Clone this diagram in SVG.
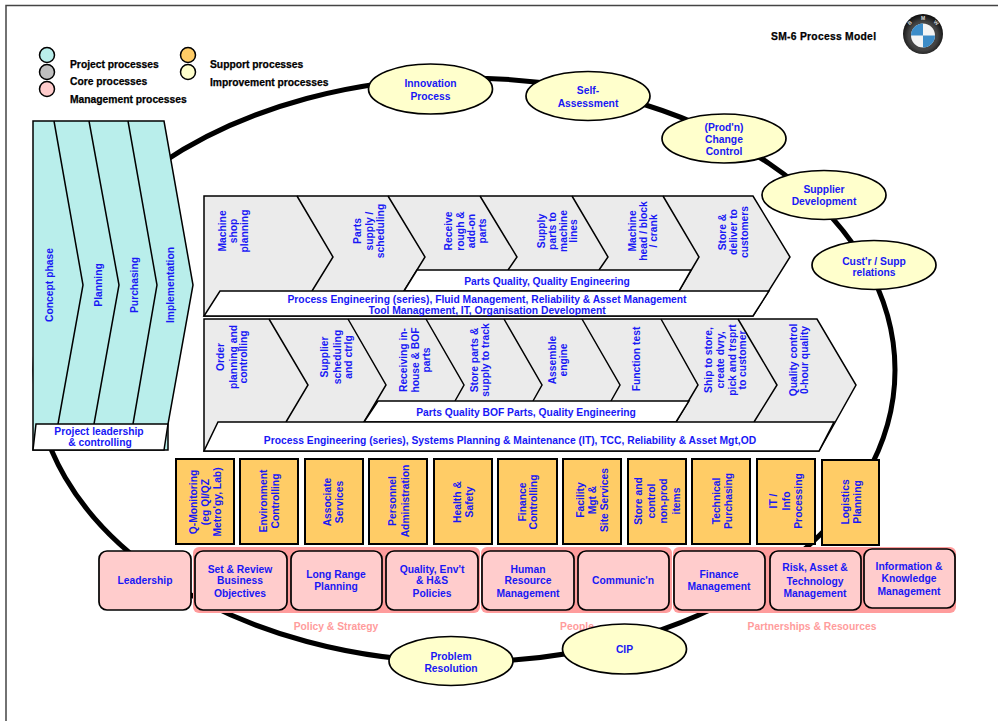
<svg xmlns="http://www.w3.org/2000/svg" width="998" height="721" viewBox="0 0 998 721">
<style>
text{font-family:"Liberation Sans",Arial,sans-serif;font-size:10.3px;font-weight:700}
.b{fill:#1818f5;text-anchor:middle}
.k{fill:#000;stroke:#000;stroke-width:.25}
.p{fill:#ff9c9c;text-anchor:middle}
.s{stroke:#000;stroke-width:1.5;fill:none}
.g{fill:#ebebeb;stroke:#000;stroke-width:1.5}
.w{fill:#fff;stroke:#000;stroke-width:1.5}
.t{fill:#b9eeeb;stroke:#000;stroke-width:1.5}
.o{fill:#ffcc66;stroke:#000;stroke-width:2}
.m{fill:#ffcccc;stroke:#000;stroke-width:1.7}
.r{fill:#ff9c9c}
.y{fill:#ffffcc;stroke:#000;stroke-width:1.7}
.bm{fill:#ddd;font-size:5px;text-anchor:middle}
</style>
<defs>
<radialGradient id="lg" cx="50%" cy="55%" r="55%"><stop offset="65%" stop-color="#444"/><stop offset="100%" stop-color="#0a0a0a"/></radialGradient>
</defs>
<rect width="998" height="721" fill="#fff"/>
<path id="frame" d="M6 721V5.500H998" fill="none" stroke="#444" stroke-width="1.5"/>

<g id="legend">
<circle class="t" cx="47" cy="55" r="7.500"/><circle cx="47" cy="72" r="7.500" fill="#c0c0c0" stroke="#000" stroke-width="1.500"/><circle cx="47" cy="89" r="7.500" fill="#ffcccc" stroke="#000" stroke-width="1.500"/>
<circle cx="188" cy="55" r="7.500" fill="#ffcc66" stroke="#000" stroke-width="1.500"/><circle cx="188" cy="72" r="7.500" fill="#ffffcc" stroke="#000" stroke-width="1.500"/>
<text class="k" x="70" y="68">Project processes</text><text class="k" x="70" y="85">Core processes</text><text class="k" x="70" y="103">Management processes</text>
<text class="k" x="210" y="68">Support processes</text><text class="k" x="210" y="86">Improvement processes</text>
</g>
<g id="title"><text class="k" x="771" y="40" textLength="105">SM-6 Process Model</text></g>
<g id="logo">
<circle cx="923" cy="34" r="20" fill="url(#lg)"/>
<circle cx="923" cy="35.500" r="12" fill="#f4f4f4"/>
<path d="M923 35.500V23.500A12 12 0 0 0 911 35.500Z M923 35.500V47.500A12 12 0 0 0 935 35.500Z" fill="#3c8cc8"/>
<text class="bm" transform="translate(911 24) rotate(-40)">B</text><text class="bm" x="923" y="20">M</text><text class="bm" transform="translate(935 24) rotate(40)">W</text>
</g>

<g id="connectors"><ellipse cx="465" cy="370" rx="430" ry="292" fill="none" stroke="#000" stroke-width="5"/></g>

<g id="project-processes">
<path class="t" d="M33 121H164L193 285L168 424V450H33Z"/>
<path class="s" d="M54 121L83 285L58 424M89 121L119 285L94 424M128 121L157 285L133 424"/>
<path class="w" d="M36 424H168L164 450H33Z"/>
<text class="b" transform="translate(53 285) rotate(-90)">Concept phase</text>
<text class="b" transform="translate(102 285) rotate(-90)">Planning</text>
<text class="b" transform="translate(138 285) rotate(-90)">Purchasing</text>
<text class="b" transform="translate(174 285) rotate(-90)">Implementation</text>
<text class="b" x="99" y="435">Project leadership</text><text class="b" x="100" y="446">&amp; controlling</text>
</g>

<g id="core-upper">
<path class="g" d="M204 196H753L790 257L753 316H204Z"/>
<path class="s" d="M297 196L333 257L312 291M388 196L425 257L404 291M480 196L517 257L508 270M572 196L608 257L599 270M663 196L699 257L679 291"/>
<path class="w" d="M417 270H691L679 291H404Z"/>
<path class="w" d="M220 291H769L753 316H204Z"/>
<text class="b" x="547" y="285">Parts Quality, Quality Engineering</text>
<text class="b" x="487" y="303">Process Engineering (series), Fluid Management, Reliability &amp; Asset Management</text>
<text class="b" x="487" y="313.500">Tool Management, IT, Organisation Development</text>
<text class="b" transform="translate(226 231) rotate(-90)">Machine</text><text class="b" transform="translate(237 231) rotate(-90)">shop</text><text class="b" transform="translate(248 231) rotate(-90)">planning</text>
<text class="b" transform="translate(361 231) rotate(-90)">Parts</text><text class="b" transform="translate(373 231) rotate(-90)">supply /</text><text class="b" transform="translate(384 231) rotate(-90)">scheduling</text>
<text class="b" transform="translate(452 231) rotate(-90)">Receive</text><text class="b" transform="translate(464 231) rotate(-90)">rough &amp;</text><text class="b" transform="translate(475 231) rotate(-90)">add-on</text><text class="b" transform="translate(486 231) rotate(-90)">parts</text>
<text class="b" transform="translate(545 231) rotate(-90)">Supply</text><text class="b" transform="translate(556 231) rotate(-90)">parts to</text><text class="b" transform="translate(567 231) rotate(-90)">machine</text><text class="b" transform="translate(577 231) rotate(-90)">lines</text>
<text class="b" transform="translate(636 231) rotate(-90)">Machine</text><text class="b" transform="translate(647 231) rotate(-90)">head / block</text><text class="b" transform="translate(657 231) rotate(-90)">/ crank</text>
<text class="b" transform="translate(726 232) rotate(-90)">Store &amp;</text><text class="b" transform="translate(737 232) rotate(-90)">deliver to</text><text class="b" transform="translate(748 232) rotate(-90)">customers</text>
</g>

<g id="core-lower">
<path class="g" d="M204 319H817L856 385L819 451H204Z"/>
<path class="s" d="M269 319L308 385L286 422M348 319L386 385L364 422M426 319L464 385L455 401M504 319L542 385L533 401M582 319L620 385L611 401M661 319L698 385L676 422M738 319L777 385L754 422"/>
<path class="w" d="M378 401H689L676 422H364Z"/>
<path class="w" d="M218 422H834L819 451H204Z"/>
<text class="b" x="526" y="416">Parts Quality BOF Parts, Quality Engineering</text>
<text class="b" x="510" y="444">Process Engineering (series), Systems Planning &amp; Maintenance (IT), TCC, Reliability &amp; Asset Mgt,OD</text>
<text class="b" transform="translate(224 357) rotate(-90)">Order</text><text class="b" transform="translate(237 357) rotate(-90)">planning and</text><text class="b" transform="translate(247 357) rotate(-90)">controlling</text>
<text class="b" transform="translate(328 357) rotate(-90)">Supplier</text><text class="b" transform="translate(341 357) rotate(-90)">scheduling</text><text class="b" transform="translate(352 357) rotate(-90)">and ctrlg</text>
<text class="b" transform="translate(407 360) rotate(-90)">Receiving in-</text><text class="b" transform="translate(419 360) rotate(-90)">house &amp; BOF</text><text class="b" transform="translate(430 360) rotate(-90)">parts</text>
<text class="b" transform="translate(478 360) rotate(-90)">Store parts &amp;</text><text class="b" transform="translate(489 360) rotate(-90)">supply to track</text>
<text class="b" transform="translate(556 360) rotate(-90)">Assemble</text><text class="b" transform="translate(567 360) rotate(-90)">engine</text>
<text class="b" transform="translate(640 359) rotate(-90)">Function test</text>
<text class="b" transform="translate(712 360) rotate(-90)">Ship to store,</text><text class="b" transform="translate(724 360) rotate(-90)">create dvry,</text><text class="b" transform="translate(736 360) rotate(-90)">pick and trsprt</text><text class="b" transform="translate(746 360) rotate(-90)">to customer</text>
<text class="b" transform="translate(797 360) rotate(-90)">Quality control</text><text class="b" transform="translate(808 360) rotate(-90)">0-hour quality</text>
</g>

<g id="support-1"><rect class="o" x="176" y="459" width="58" height="85"/><text class="b" transform="translate(197 502) rotate(-90)">Q-Monitoring</text><text class="b" transform="translate(209 502) rotate(-90)">(eg QI/QZ</text><text class="b" transform="translate(221 502) rotate(-90)">Metro'gy, Lab)</text></g>
<g id="support-2"><rect class="o" x="240" y="459" width="58" height="85"/><text class="b" transform="translate(267 501) rotate(-90)">Environment</text><text class="b" transform="translate(279 501) rotate(-90)">Controlling</text></g>
<g id="support-3"><rect class="o" x="305" y="459" width="58" height="85"/><text class="b" transform="translate(331 502) rotate(-90)">Associate</text><text class="b" transform="translate(343 502) rotate(-90)">Services</text></g>
<g id="support-4"><rect class="o" x="369" y="459" width="58" height="85"/><text class="b" transform="translate(396 501) rotate(-90)">Personnel</text><text class="b" transform="translate(409 501) rotate(-90)">Administration</text></g>
<g id="support-5"><rect class="o" x="434" y="459" width="58" height="85"/><text class="b" transform="translate(461 502) rotate(-90)">Health &amp;</text><text class="b" transform="translate(473 502) rotate(-90)">Safety</text></g>
<g id="support-6"><rect class="o" x="498" y="459" width="59" height="85"/><text class="b" transform="translate(526 502) rotate(-90)">Finance</text><text class="b" transform="translate(537 502) rotate(-90)">Controlling</text></g>
<g id="support-7"><rect class="o" x="563" y="459" width="58" height="85"/><text class="b" transform="translate(584 500) rotate(-90)">Facility</text><text class="b" transform="translate(596 500) rotate(-90)">Mgt &amp;</text><text class="b" transform="translate(608 500) rotate(-90)">Site Services</text></g>
<g id="support-8"><rect class="o" x="628" y="459" width="58" height="85"/><text class="b" transform="translate(642 501) rotate(-90)">Store and</text><text class="b" transform="translate(655 501) rotate(-90)">control</text><text class="b" transform="translate(667 501) rotate(-90)">non-prod</text><text class="b" transform="translate(680 501) rotate(-90)">items</text></g>
<g id="support-9"><rect class="o" x="692" y="459" width="58" height="85"/><text class="b" transform="translate(720 501) rotate(-90)">Technical</text><text class="b" transform="translate(732 501) rotate(-90)">Purchasing</text></g>
<g id="support-10"><rect class="o" x="757" y="459" width="58" height="85"/><text class="b" transform="translate(777 501) rotate(-90)">IT /</text><text class="b" transform="translate(790 501) rotate(-90)">Info</text><text class="b" transform="translate(802 501) rotate(-90)">Processing</text></g>
<g id="support-11"><rect class="o" x="822" y="460" width="57" height="85"/><text class="b" transform="translate(849 502) rotate(-90)">Logistics</text><text class="b" transform="translate(861 502) rotate(-90)">Planning</text></g>

<g id="policy-band"><rect class="r" x="193" y="547" width="287" height="66" rx="6"/><text class="p" x="336" y="630">Policy &amp; Strategy</text></g>
<g id="people-band"><rect class="r" x="481" y="547" width="191" height="66" rx="6"/><text class="p" x="577" y="630">People</text></g>
<g id="partnerships-band"><rect class="r" x="673" y="547" width="283" height="66" rx="6"/><text class="p" x="812" y="630">Partnerships &amp; Resources</text></g>

<g id="leadership"><rect class="m" x="99" y="551" width="92" height="59" rx="8"/><text class="b" x="145" y="584">Leadership</text></g>
<g id="set-review"><rect class="m" x="195" y="551" width="92" height="59" rx="8"/><text class="b" x="240" y="572.500">Set &amp; Review</text><text class="b" x="240" y="584">Business</text><text class="b" x="240" y="597">Objectives</text></g>
<g id="long-range"><rect class="m" x="291" y="551" width="91" height="59" rx="8"/><text class="b" x="336" y="578">Long Range</text><text class="b" x="336" y="590">Planning</text></g>
<g id="quality-policies"><rect class="m" x="386" y="551" width="92" height="59" rx="8"/><text class="b" x="432" y="572.500">Quality, Env't</text><text class="b" x="432" y="584">&amp; H&amp;S</text><text class="b" x="432" y="597">Policies</text></g>
<g id="human-resource"><rect class="m" x="482" y="551" width="92" height="59" rx="8"/><text class="b" x="528" y="572.500">Human</text><text class="b" x="528" y="584">Resource</text><text class="b" x="528" y="597">Management</text></g>
<g id="communication"><rect class="m" x="578" y="551" width="91" height="59" rx="8"/><text class="b" x="623" y="584">Communic'n</text></g>
<g id="finance-mgmt"><rect class="m" x="674" y="551" width="91" height="59" rx="8"/><text class="b" x="719" y="578">Finance</text><text class="b" x="719" y="590">Management</text></g>
<g id="risk"><rect class="m" x="770" y="551" width="91" height="59" rx="8"/><text class="b" x="815" y="571">Risk, Asset &amp;</text><text class="b" x="815" y="584.500">Technology</text><text class="b" x="815" y="596.500">Management</text></g>
<g id="information"><rect class="m" x="864" y="549" width="91" height="59" rx="8"/><text class="b" x="909" y="570">Information &amp;</text><text class="b" x="909" y="582">Knowledge</text><text class="b" x="909" y="595">Management</text></g>

<g id="innovation"><ellipse class="y" cx="430.500" cy="89" rx="62" ry="25"/><text class="b" x="430.500" y="87">Innovation</text><text class="b" x="430.500" y="100">Process</text></g>
<g id="self-assessment"><ellipse class="y" cx="588" cy="96" rx="62" ry="24.500"/><text class="b" x="588" y="94">Self-</text><text class="b" x="588" y="107">Assessment</text></g>
<g id="change-control"><ellipse class="y" cx="724" cy="138.500" rx="62" ry="24.500"/><text class="b" x="724" y="131">(Prod'n)</text><text class="b" x="724" y="143">Change</text><text class="b" x="724" y="155">Control</text></g>
<g id="supplier-development"><ellipse class="y" cx="824" cy="195" rx="62" ry="24.500"/><text class="b" x="824" y="193">Supplier</text><text class="b" x="824" y="205">Development</text></g>
<g id="cust-supp"><ellipse class="y" cx="874" cy="265" rx="62" ry="24.500"/><text class="b" x="874" y="264.500">Cust'r / Supp</text><text class="b" x="874" y="276">relations</text></g>
<g id="problem-resolution"><ellipse class="y" cx="451" cy="661" rx="62" ry="24.500"/><text class="b" x="451" y="660">Problem</text><text class="b" x="451" y="672">Resolution</text></g>
<g id="cip"><ellipse class="y" cx="624.500" cy="649" rx="62" ry="25"/><text class="b" x="624.500" y="653">CIP</text></g>
</svg>
